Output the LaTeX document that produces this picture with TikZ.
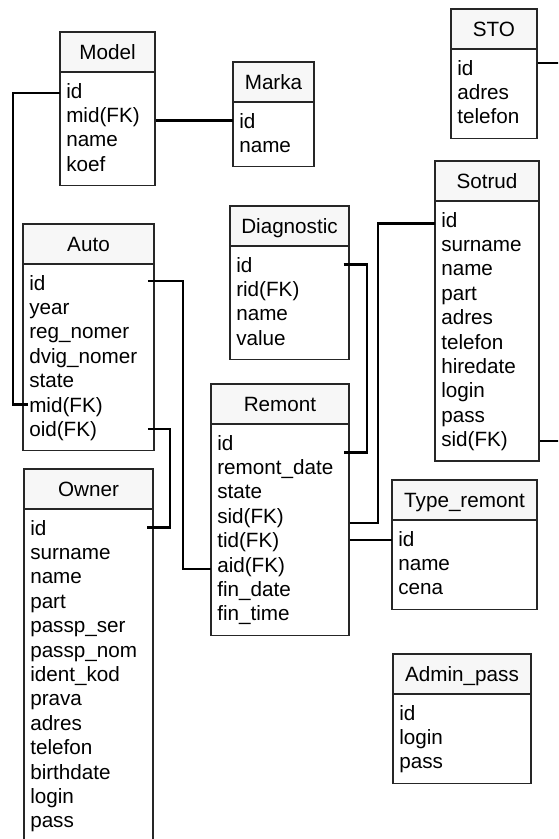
\documentclass[tikz,border=0pt]{standalone}
\usepackage{fontspec}
\setmainfont{Liberation Sans}
\usetikzlibrary{calc}
\tikzset{
	boxline/.style={draw=black!85, line width=0.9pt},
	headfill/.style={fill=black!3},
	titletext/.style={inner sep=0pt, text height=11.1pt, text depth=0pt},
	rowtext/.style={anchor=west, inner xsep=4.5pt, inner ysep=0pt, text height=11.1pt, text depth=0pt, align=left},
	link/.style={line width=1.75pt}
}
% table: name, left:right:top (px), title, rows
\def\erbox(#1)(#2:#3:#4)#5#6{%
	\pgfmathsetmacro\rowwd{(#3-#2)*0.75-9}
	\draw[boxline, headfill] (#2,#4) rectangle (#3,#4+40);
	\node[titletext] (#1) at ({(#2+#3)/2},#4+20) {#5};
	\foreach \f [count=\i] in {#6}{
		\node[rowtext, text width=\rowwd pt] (#1-\i) at (#2,#4+58.6+24.4*\i-24.4) {\f};
		\xdef\nrows{\i}
	}
	\draw[boxline] (#2,#4+40) rectangle (#3,#4+56+24.4*\nrows);
}

\begin{document}
\begin{tikzpicture}[x=0.75pt, y=-0.75pt, font=\fontsize{15.5pt}{18pt}\selectfont]
		%%%%% START %%%%%
		\useasboundingbox (0,0) rectangle (558,839);
		\clip (0,0) rectangle (558,839);
		
		\erbox(model)(60:155:32){Model}{id, mid(FK), name, koef}
		\erbox(marka)(233:314:62){Marka}{id, name}
		\erbox(sto)(451:537:9){STO}{id, adres, telefon}
		\erbox(sotrud)(435:539:161){Sotrud}{id, surname, name, part, adres, telefon, hiredate, login, pass, sid(FK)}
		\erbox(diag)(230:349:206){Diagnostic}{id, rid(FK), name, value}
		\erbox(auto)(23:154:224){Auto}{id, year, reg\_nomer, dvig\_nomer, state, mid(FK), oid(FK)}
		\erbox(remont)(211:349:384){Remont}{id, remont\_date, state, sid(FK), tid(FK), aid(FK), fin\_date, fin\_time}
		\erbox(owner)(24:153:469){Owner}{id, surname, name, part, passp\_ser, passp\_nom, ident\_kod, prava, adres, telefon, birthdate, login, pass}
		\erbox(typerem)(392:537:480){Type\_remont}{id, name, cena}
		\erbox(admin)(393:531:654){Admin\_pass}{id, login, pass}
		
		\coordinate (bus1) at (13,250);
		\coordinate (bus2) at (183,450);
		\coordinate (bus3) at (170,480);
		\coordinate (bus4) at (367,350);
		\coordinate (bus5) at (378,370);
		\coordinate (bus6) at (575,250);
		
		\draw[link] (marka-1.west) -- (marka-1.west -| model-2.east);
		\draw[link] ([yshift=-1.6pt]model-1.west) -| (bus1) |- ([xshift=4pt]auto-6.west);
		\draw[link] ([xshift=-5pt, yshift=1.2pt]auto-1.east) -| (bus2) |- ([yshift=-3.5pt]remont-6.west);
		\draw[link] ([xshift=-5pt]auto-7.east) -| (bus3) |- ([xshift=-5pt]owner-1.east);
		\draw[link] ([xshift=-4.5pt]diag-1.east) -| (bus4) |- ([xshift=-4.5pt, yshift=-7.4pt]remont-1.east);
		\draw[link] ([yshift=-5.2pt]remont-4.east) -| (bus5) |- ([yshift=-2.8pt]sotrud-1.west);
		\draw[link] (remont-5.east) -- (remont-5.east -| typerem-1.west);
		\draw[link] ([yshift=3.5pt]sto-1.east) -| (bus6) |- ([yshift=-1.5pt]sotrud-10.east);
		
		%%%%% END %%%%%
\end{tikzpicture}
\end{document}
